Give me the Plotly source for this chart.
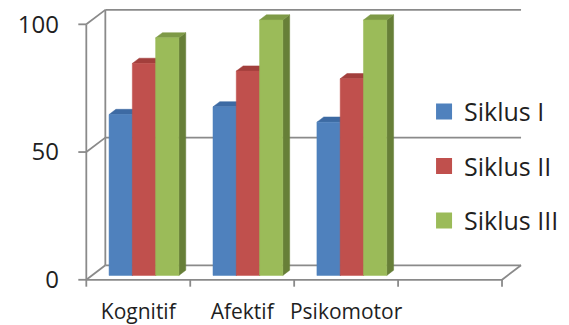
import plotly.graph_objects as go

categories = ["Kognitif", "Afektif", "Psikomotor"]
series_names = ["Siklus I", "Siklus II", "Siklus III"]
siklus_1 = [63, 66, 60]
siklus_2 = [83, 80, 77]
siklus_3 = [93, 100, 100]
series_values = [siklus_1, siklus_2, siklus_3]
y_ticks = [0, 50, 100]

front_colors = ["#4F81BD", "#C0504D", "#9BBB59"]
top_colors = ["#3D6AA3", "#A23F3C", "#7E9A47"]
side_colors = ["#375E8E", "#8E3936", "#677F38"]

# Oblique 3-D projection expressed in axis units
DX = 0.183      # depth shift along x (category units)
DY = 5.66       # depth shift along y (value units)
N_SLOTS = 4     # floor spans four category slots
BAR_W = 0.224   # width of one column
FRONT = 0.30    # depth fraction where the column front faces sit
DEPTH = 0.36    # depth fraction occupied by a column

FONT = "Open Sans"
TEXT_COLOR = "#1f1f1f"
frame_line = dict(color="#8a8a8a", width=1.8)

fig = go.Figure()

# ---- walls, floor and axis lines -------------------------------------------
fx, fy = [], []


def add_seg(pts):
    for px, py in pts:
        fx.append(px)
        fy.append(py)
    fx.append(None)
    fy.append(None)


for t in y_ticks:
    add_seg([(DX, t + DY), (N_SLOTS + DX, t + DY)])   # back wall gridline
    add_seg([(0, t), (DX, t + DY)])                     # side wall edge
    add_seg([(-0.077, t), (0, t)])                      # value tick mark
add_seg([(DX, DY), (DX, max(y_ticks) + DY)])            # back wall corner
add_seg([(0, 0), (0, max(y_ticks))])                    # front value axis
add_seg([(0, 0), (N_SLOTS, 0), (N_SLOTS + DX, DY)])     # floor front edge
for i in range(N_SLOTS + 1):
    add_seg([(i, 0), (i, -2.7)])                        # category tick marks

fig.add_trace(go.Scatter(x=fx, y=fy, mode="lines", line=frame_line,
                         hoverinfo="skip", showlegend=False))

# ---- 3-D columns -------------------------------------------------------------
n_series = len(series_values)
for j, vals in enumerate(series_values):
    sides_x, sides_y, tops_x, tops_y, fronts_x, fronts_y = [], [], [], [], [], []
    for i, v in enumerate(vals):
        x0 = i + 0.5 - n_series * BAR_W / 2 + j * BAR_W + FRONT * DX
        x1 = x0 + BAR_W
        b = FRONT * DY
        top = b + v
        ddx, ddy = DEPTH * DX, DEPTH * DY
        fronts_x += [x0, x1, x1, x0, x0, None]
        fronts_y += [b, b, top, top, b, None]
        tops_x += [x0, x1, x1 + ddx, x0 + ddx, x0, None]
        tops_y += [top, top, top + ddy, top + ddy, top, None]
        sides_x += [x1, x1 + ddx, x1 + ddx, x1, x1, None]
        sides_y += [b, b + ddy, top + ddy, top, b, None]
    for xs, ys, col in [(sides_x, sides_y, side_colors[j]),
                        (tops_x, tops_y, top_colors[j]),
                        (fronts_x, fronts_y, front_colors[j])]:
        fig.add_trace(go.Scatter(x=xs, y=ys, mode="lines", fill="toself",
                                 fillcolor=col, line=dict(color=col, width=0.5),
                                 hoverinfo="skip", showlegend=False))

# ---- legend entries ----------------------------------------------------------
for j, name in enumerate(series_names):
    fig.add_trace(go.Scatter(x=[None], y=[None], mode="markers", name=name,
                             legendgroup=name,
                             marker=dict(symbol="square", size=16,
                                         color=front_colors[j])))

fig.update_layout(
    width=569, height=325,
    paper_bgcolor="white", plot_bgcolor="white",
    margin=dict(l=77.7, r=41, t=8.64, b=34.76, autoexpand=False),
    font=dict(family=FONT, color=TEXT_COLOR),
    showlegend=True,
    legend=dict(x=0.769, y=0.716, xanchor="left", yanchor="top",
                bgcolor="rgba(0,0,0,0)", font=dict(size=25, family=FONT,
                                                   color=TEXT_COLOR),
                tracegroupgap=19, itemwidth=30),
    xaxis=dict(range=[-0.08, 4.25], tickvals=[0.5, 1.5, 2.5],
               ticktext=categories, showgrid=False, zeroline=False,
               showline=False, ticks="", fixedrange=True,
               ticklabelstandoff=7,
               tickfont=dict(size=21, family=FONT, color=TEXT_COLOR)),
    yaxis=dict(range=[-4, 106], tickvals=y_ticks, showgrid=False,
               zeroline=False, showline=False, ticks="", fixedrange=True,
               ticklabelstandoff=18,
               tickfont=dict(size=24, family=FONT, color=TEXT_COLOR)),
)

fig.write_html("out.html", config={"displayModeBar": False})
